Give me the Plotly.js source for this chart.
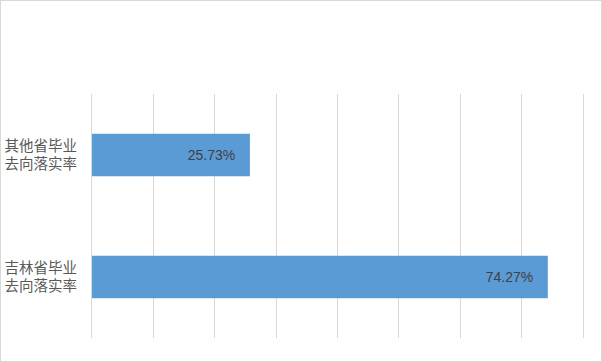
<!DOCTYPE html>
<html><head><meta charset="utf-8">
<script src="https://cdn.plot.ly/plotly-3.0.1.min.js"></script>
<style>html,body{margin:0;padding:0;background:#fff}#c{width:602px;height:362px;box-sizing:border-box;border:1px solid #d9d9d9}</style>
</head><body><div id="c"></div>
<script>
const categories = ['吉林省毕业<br>去向落实率', '其他省毕业<br>去向落实率'];
const values = [0.7427, 0.2573];
const labels = ['74.27%', '25.73%'];
Plotly.newPlot('c', [{
  type: 'bar', orientation: 'h', y: categories, x: values,
  text: labels.map(t => t + '\u00a0\u00a0\u00a0'), textposition: 'inside', insidetextanchor: 'end',
  textfont: {family: '"Liberation Sans", sans-serif', size: 14, color: '#404040'},
  marker: {color: '#5B9BD5'}, width: 0.35, hoverinfo: 'none'
}], {
  width: 600, height: 360,
  margin: {l: 91, r: 18, t: 93, b: 23},
  paper_bgcolor: '#fff', plot_bgcolor: '#fff', showlegend: false,
  xaxis: {range: [0, 0.8], dtick: 0.1, showticklabels: false, showgrid: true, gridcolor: '#d9d9d9', zeroline: false, showline: false, ticks: ''},
  yaxis: {type: 'category', showgrid: false, zeroline: false, showline: true, mirror: true, linecolor: '#d9d9d9', linewidth: 1, ticks: '',
    ticklabelstandoff: 11,
    tickfont: {family: '"Noto Sans CJK SC", sans-serif', size: 14.5, color: '#595959'}}
}, {staticPlot: true});
</script></body></html>
